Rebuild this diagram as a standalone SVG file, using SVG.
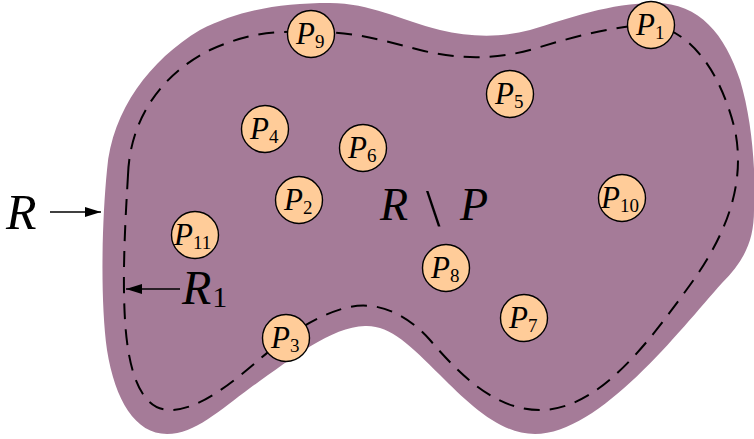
<svg xmlns="http://www.w3.org/2000/svg" width="754" height="439" viewBox="0 0 754 439">
<defs>
<marker id="ah2" viewBox="0 0 16 10" refX="16" refY="5" markerWidth="16" markerHeight="10" markerUnits="userSpaceOnUse" orient="auto">
<path d="M0,0 L16,5 L0,10 Z" fill="#000"/>
</marker>
</defs>
<style>
.node circle{fill:#FFCC99;stroke:#000;stroke-width:1.4}
.lbl{font-family:"Liberation Serif","DejaVu Serif",serif;fill:#000}
.p{font-style:italic;font-size:31px}
.sub{font-size:19px}
.big{font-family:"Liberation Serif","DejaVu Serif",serif;font-style:italic;fill:#000}
</style>
<rect width="754" height="439" fill="#fff"/>
<g id="region">
<path d="M107,170 C112,110 150,60 200,30 C240,10 280,3 330,3 C370,3 400,20 440,30 C470,37 500,38 530,30 C570,18 610,3 655,3 C700,3 725,35 740,80 C752,120 756,170 754,210 C754,240 745,260 722,283 C680,330 600,434 535,434 C500,434 470,405 440,375 C410,345 390,325 365,326 C330,327 290,360 250,388 C220,410 195,434 167,434 C135,434 115,400 107,350 C100,300 102,220 107,170 Z" fill="#A57B98"/>
</g>
<g id="r1-boundary">
<path d="M128,175 C130,120 160,75 210,50 C250,32 280,30 311,33 C350,30 380,40 420,50 C460,60 500,60 540,47 C580,35 620,25 651,25 C690,30 720,70 735,130 C745,180 730,230 690,285 C650,340 600,410 540,410 C495,410 460,375 430,340 C405,312 375,300 345,308 C320,315 300,328 286,338 C255,360 210,410 170,410 C140,410 128,370 125,320 C122,270 126,210 128,175 Z" fill="none" stroke="#000" stroke-width="2" stroke-dasharray="16 10"/>
</g>
<g id="connectors">
<line x1="50" y1="212" x2="101" y2="212" stroke="#000" stroke-width="1.4" marker-end="url(#ah2)"/>
<line x1="180" y1="289" x2="126" y2="289" stroke="#000" stroke-width="1.4" marker-end="url(#ah2)"/>
</g>
<g id="labels">
<text class="big" x="6" y="229" font-size="50">R</text>
<text class="big" x="182" y="304" font-size="48">R<tspan font-style="normal" font-size="30" dx="1" dy="3">1</tspan></text>
<text class="big" x="380" y="220" font-size="46">R<tspan font-style="normal" x="426" y="226" font-size="52">\</tspan><tspan x="460" y="220">P</tspan></text>
</g>
<g id="P1" class="node"><circle cx="651" cy="25" r="23.5"/><text class="lbl" x="636" y="35"><tspan class="p">P</tspan><tspan class="sub" dy="4">1</tspan></text></g>
<g id="P9" class="node"><circle cx="311" cy="34" r="23.5"/><text class="lbl" x="296" y="44"><tspan class="p">P</tspan><tspan class="sub" dy="4">9</tspan></text></g>
<g id="P5" class="node"><circle cx="510" cy="94" r="23.5"/><text class="lbl" x="495" y="104"><tspan class="p">P</tspan><tspan class="sub" dy="4">5</tspan></text></g>
<g id="P4" class="node"><circle cx="265" cy="129" r="23.5"/><text class="lbl" x="250" y="139"><tspan class="p">P</tspan><tspan class="sub" dy="4">4</tspan></text></g>
<g id="P6" class="node"><circle cx="363" cy="148" r="23.5"/><text class="lbl" x="348" y="158"><tspan class="p">P</tspan><tspan class="sub" dy="4">6</tspan></text></g>
<g id="P2" class="node"><circle cx="299" cy="200" r="23.5"/><text class="lbl" x="284" y="210"><tspan class="p">P</tspan><tspan class="sub" dy="4">2</tspan></text></g>
<g id="P10" class="node"><circle cx="622" cy="198" r="23.5"/><text class="lbl" x="601" y="208"><tspan class="p">P</tspan><tspan class="sub" dy="4">10</tspan></text></g>
<g id="P11" class="node"><circle cx="195" cy="235" r="23.5"/><text class="lbl" x="174" y="245"><tspan class="p">P</tspan><tspan class="sub" dy="4">11</tspan></text></g>
<g id="P8" class="node"><circle cx="446" cy="268" r="23.5"/><text class="lbl" x="431" y="278"><tspan class="p">P</tspan><tspan class="sub" dy="4">8</tspan></text></g>
<g id="P7" class="node"><circle cx="524" cy="318" r="23.5"/><text class="lbl" x="509" y="328"><tspan class="p">P</tspan><tspan class="sub" dy="4">7</tspan></text></g>
<g id="P3" class="node"><circle cx="286" cy="338" r="23.5"/><text class="lbl" x="271" y="348"><tspan class="p">P</tspan><tspan class="sub" dy="4">3</tspan></text></g>
</svg>
